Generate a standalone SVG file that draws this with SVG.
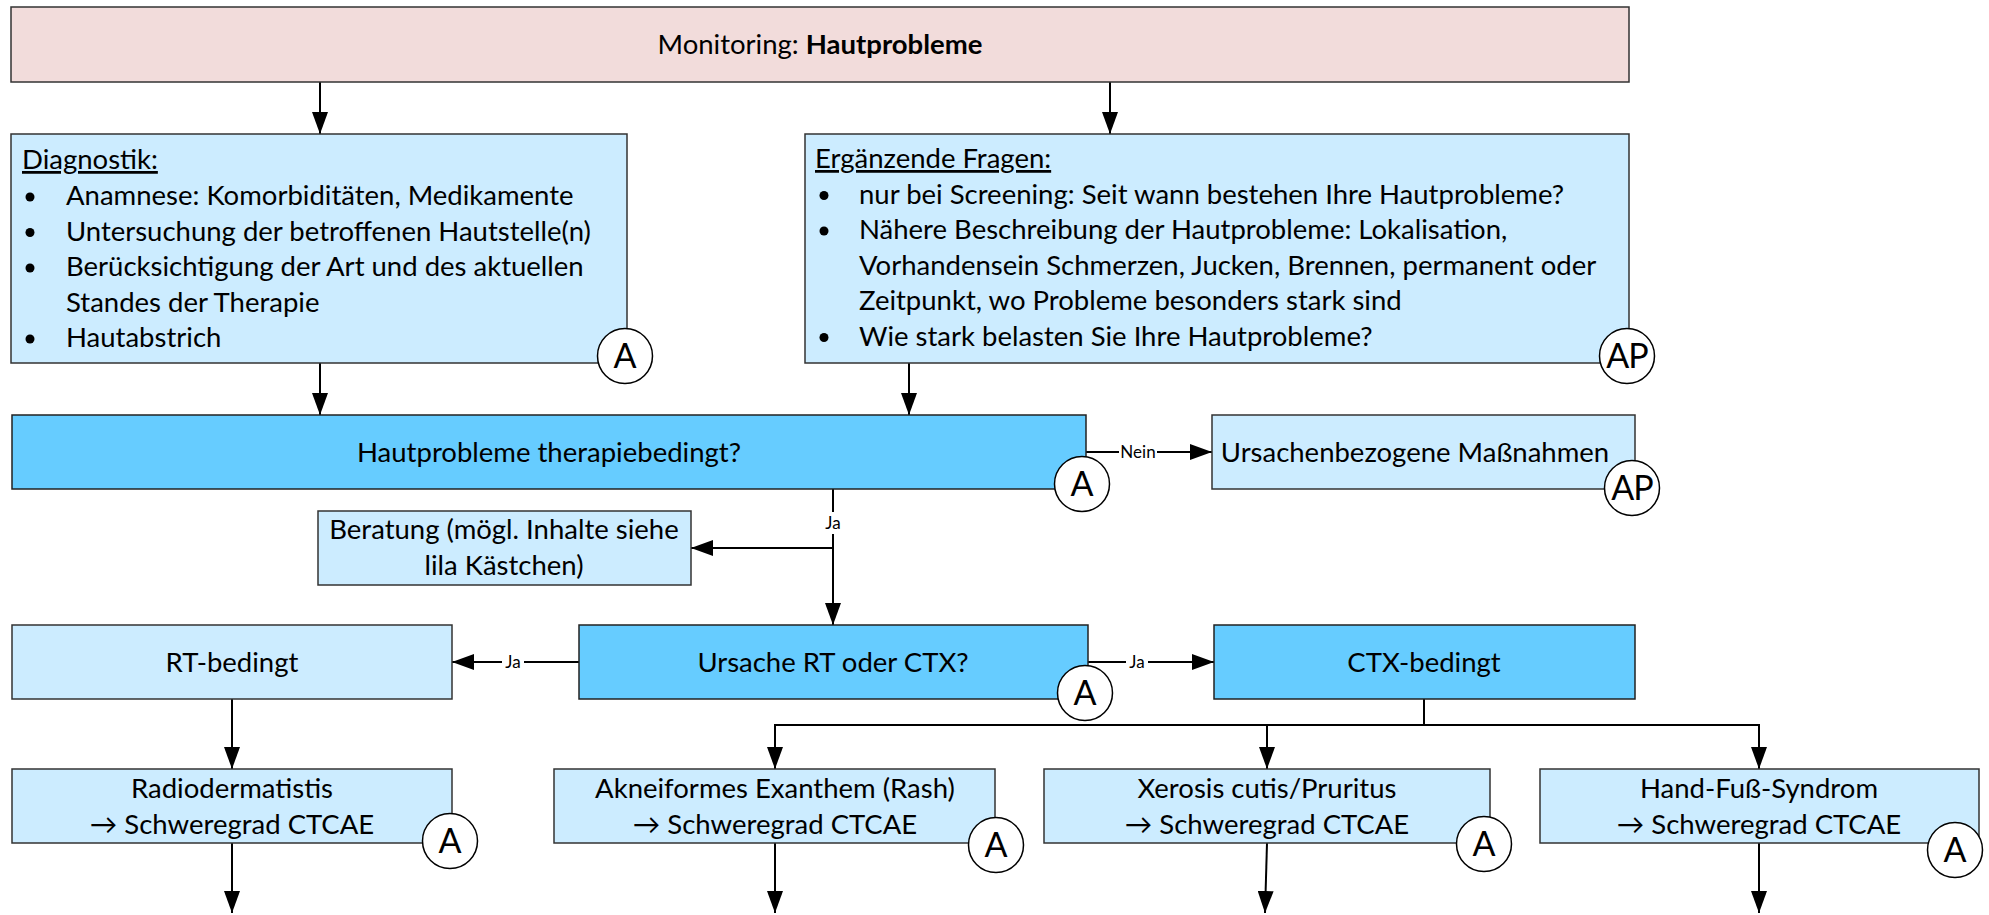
<svg xmlns="http://www.w3.org/2000/svg" width="1989" height="915" viewBox="0 0 1989 915">
<style>
.t{font-family:Lato,"Liberation Sans",sans-serif;font-size:27.5px;fill:#000}
.c{text-anchor:middle}
.lb{font-family:Lato,"Liberation Sans",sans-serif;font-size:17px;fill:#000;text-anchor:middle}
.ci{font-family:Lato,"Liberation Sans",sans-serif;font-size:34px;fill:#000;text-anchor:middle}
.pink{fill:#F2DCDB;stroke:#333;stroke-width:1.5}
.lt{fill:#CCECFF;stroke:#333;stroke-width:1.5}
.dk{fill:#66CCFF;stroke:#222;stroke-width:1.5}
.badge{fill:#fff;stroke:#000;stroke-width:1.5}
.ln{fill:none;stroke:#000;stroke-width:2}
.bg{fill:#fff}
</style>
<defs>
<marker id="ah" markerWidth="22" markerHeight="16" refX="22" refY="8" orient="auto" markerUnits="userSpaceOnUse">
<path d="M0,0 L22,8 L0,16 Z" fill="#000"/>
</marker>
</defs>
<rect width="1989" height="915" fill="#fff"/>

<g id="connectors">
<line class="ln" x1="320" y1="82" x2="320" y2="134" marker-end="url(#ah)"/>
<line class="ln" x1="1110" y1="82" x2="1110" y2="134" marker-end="url(#ah)"/>
<line class="ln" x1="320" y1="363" x2="320" y2="415" marker-end="url(#ah)"/>
<line class="ln" x1="909" y1="363" x2="909" y2="415" marker-end="url(#ah)"/>
<line class="ln" x1="1086" y1="452" x2="1212" y2="452" marker-end="url(#ah)"/>
<line class="ln" x1="833" y1="489" x2="833" y2="625" marker-end="url(#ah)"/>
<line class="ln" x1="833" y1="548" x2="691" y2="548" marker-end="url(#ah)"/>
<line class="ln" x1="579" y1="662" x2="452" y2="662" marker-end="url(#ah)"/>
<line class="ln" x1="1088" y1="662" x2="1214" y2="662" marker-end="url(#ah)"/>
<line class="ln" x1="232" y1="699" x2="232" y2="769" marker-end="url(#ah)"/>
<polyline class="ln" points="1424,699 1424,725"/>
<polyline class="ln" points="775,725 1759,725"/>
<line class="ln" x1="775" y1="724" x2="775" y2="769" marker-end="url(#ah)"/>
<line class="ln" x1="1267" y1="724" x2="1267" y2="769" marker-end="url(#ah)"/>
<line class="ln" x1="1759" y1="724" x2="1759" y2="769" marker-end="url(#ah)"/>
<line class="ln" x1="232" y1="843" x2="232" y2="913" marker-end="url(#ah)"/>
<line class="ln" x1="775" y1="843" x2="775" y2="913" marker-end="url(#ah)"/>
<line class="ln" x1="1267" y1="843" x2="1265" y2="913" marker-end="url(#ah)"/>
<line class="ln" x1="1759" y1="843" x2="1759" y2="913" marker-end="url(#ah)"/>
<rect class="bg" x="1119" y="441" width="38" height="22"/>
<text class="lb" x="1138" y="458">Nein</text>
<rect class="bg" x="822" y="512" width="22" height="22"/>
<text class="lb" x="833" y="529">Ja</text>
<rect class="bg" x="502" y="651" width="22" height="22"/>
<text class="lb" x="513" y="668">Ja</text>
<rect class="bg" x="1126" y="651" width="22" height="22"/>
<text class="lb" x="1137" y="668">Ja</text>
</g>

<g id="monitoring">
<rect class="pink" x="11" y="7" width="1618" height="75"/>
<text class="t c" x="820" y="54">Monitoring: <tspan font-weight="bold">Hautprobleme</tspan></text>
</g>

<g id="diagnostik">
<rect class="lt" x="11" y="134" width="616" height="229"/>
<text class="t" x="22" y="169" text-decoration="underline">Diagnostik:</text>
<circle cx="30" cy="197" r="4.5"/>
<circle cx="30" cy="232.5" r="4.5"/>
<circle cx="30" cy="268" r="4.5"/>
<circle cx="30" cy="339" r="4.5"/>
<text class="t" x="66" y="205">Anamnese: Komorbiditäten, Medikamente</text>
<text class="t" x="66" y="240.5">Untersuchung der betroffenen Hautstelle(n)</text>
<text class="t" x="66" y="276">Berücksichtigung der Art und des aktuellen</text>
<text class="t" x="66" y="311.5">Standes der Therapie</text>
<text class="t" x="66" y="347">Hautabstrich</text>
<circle class="badge" cx="625" cy="356" r="27.5"/>
<text class="ci" x="625" y="368">A</text>
</g>

<g id="ergaenzende">
<rect class="lt" x="805" y="134" width="824" height="229"/>
<text class="t" x="815" y="168" text-decoration="underline">Ergänzende Fragen:</text>
<circle cx="824" cy="195.5" r="4.5"/>
<circle cx="824" cy="231" r="4.5"/>
<circle cx="824" cy="337.5" r="4.5"/>
<text class="t" x="859" y="203.5">nur bei Screening: Seit wann bestehen Ihre Hautprobleme?</text>
<text class="t" x="859" y="239">Nähere Beschreibung der Hautprobleme: Lokalisation,</text>
<text class="t" x="859" y="274.5">Vorhandensein Schmerzen, Jucken, Brennen, permanent oder</text>
<text class="t" x="859" y="310">Zeitpunkt, wo Probleme besonders stark sind</text>
<text class="t" x="859" y="345.5">Wie stark belasten Sie Ihre Hautprobleme?</text>
<circle class="badge" cx="1627" cy="356" r="27.5"/>
<text class="ci" x="1627" y="368" letter-spacing="-1">AP</text>
</g>

<g id="therapiebedingt">
<rect class="dk" x="12" y="415" width="1074" height="74"/>
<text class="t c" x="549" y="462">Hautprobleme therapiebedingt?</text>
<circle class="badge" cx="1082" cy="484" r="27.5"/>
<text class="ci" x="1082" y="496">A</text>
</g>

<g id="ursachenbezogen">
<rect class="lt" x="1212" y="415" width="423" height="74"/>
<text class="t c" x="1415" y="462">Ursachenbezogene Maßnahmen</text>
<circle class="badge" cx="1632" cy="488" r="27.5"/>
<text class="ci" x="1632" y="500" letter-spacing="-1">AP</text>
</g>

<g id="beratung">
<rect class="lt" x="318" y="511" width="373" height="74"/>
<text class="t c" x="504" y="539">Beratung (mögl. Inhalte siehe</text>
<text class="t c" x="504" y="575">lila Kästchen)</text>
</g>

<g id="rt">
<rect class="lt" x="12" y="625" width="440" height="74"/>
<text class="t c" x="232" y="672">RT-bedingt</text>
</g>

<g id="ursache">
<rect class="dk" x="579" y="625" width="509" height="74"/>
<text class="t c" x="833" y="672">Ursache RT oder CTX?</text>
<circle class="badge" cx="1085" cy="693" r="27.5"/>
<text class="ci" x="1085" y="705">A</text>
</g>

<g id="ctx">
<rect class="dk" x="1214" y="625" width="421" height="74"/>
<text class="t c" x="1424" y="672">CTX-bedingt</text>
</g>

<g id="radiodermatitis">
<rect class="lt" x="12" y="769" width="440" height="74"/>
<text class="t c" x="232" y="798">Radiodermatistis</text>
<text class="t c" x="232" y="834">→ Schweregrad CTCAE</text>
<circle class="badge" cx="450" cy="841" r="27.5"/>
<text class="ci" x="450" y="853">A</text>
</g>

<g id="akne">
<rect class="lt" x="554" y="769" width="441" height="74"/>
<text class="t c" x="775" y="798">Akneiformes Exanthem (Rash)</text>
<text class="t c" x="775" y="834">→ Schweregrad CTCAE</text>
<circle class="badge" cx="996" cy="845" r="27.5"/>
<text class="ci" x="996" y="857">A</text>
</g>

<g id="xerosis">
<rect class="lt" x="1044" y="769" width="446" height="74"/>
<text class="t c" x="1267" y="798">Xerosis cutis/Pruritus</text>
<text class="t c" x="1267" y="834">→ Schweregrad CTCAE</text>
<circle class="badge" cx="1484" cy="844" r="27.5"/>
<text class="ci" x="1484" y="856">A</text>
</g>

<g id="handfuss">
<rect class="lt" x="1540" y="769" width="439" height="74"/>
<text class="t c" x="1759" y="798">Hand-Fuß-Syndrom</text>
<text class="t c" x="1759" y="834">→ Schweregrad CTCAE</text>
<circle class="badge" cx="1955" cy="850" r="27.5"/>
<text class="ci" x="1955" y="862">A</text>
</g>
</svg>
